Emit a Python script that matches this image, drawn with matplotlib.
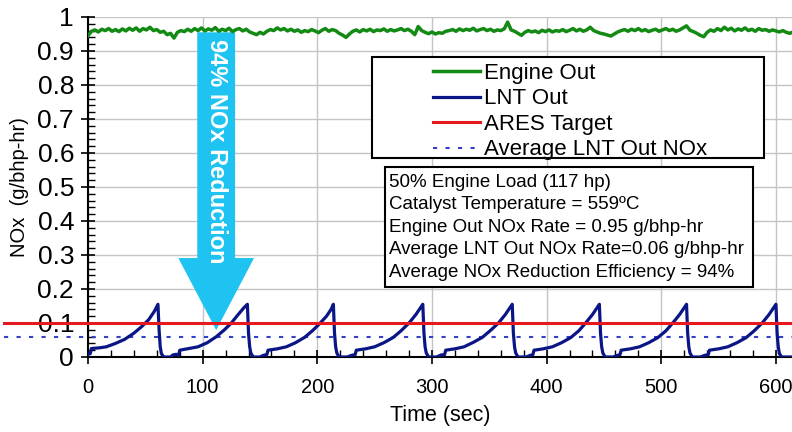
import numpy as np
import matplotlib.pyplot as plt
from matplotlib.patches import FancyArrow, Rectangle

plt.rcParams['font.family'] = ['Liberation Sans', 'DejaVu Sans']

# engine out NOx, sampled every 3 s
engine_t = np.arange(0, 616, 3)
engine_out = [
    0.945, 0.958, 0.962, 0.956, 0.964, 0.960, 0.966, 0.958, 0.963, 0.957,
    0.965, 0.959, 0.967, 0.961, 0.968, 0.958, 0.966, 0.962, 0.970, 0.960,
    0.963, 0.955, 0.958, 0.948, 0.952, 0.938, 0.955, 0.960, 0.957, 0.964,
    0.958, 0.966, 0.960, 0.968, 0.959, 0.965, 0.961, 0.969, 0.958, 0.964,
    0.960, 0.967, 0.957, 0.963, 0.966, 0.959, 0.964, 0.956, 0.952, 0.948,
    0.955, 0.950, 0.958, 0.963, 0.960, 0.968, 0.962, 0.966, 0.959, 0.964,
    0.958, 0.962, 0.955, 0.960, 0.957, 0.963, 0.959, 0.954, 0.961, 0.966,
    0.958, 0.963, 0.960, 0.952, 0.947, 0.940, 0.950, 0.958, 0.962, 0.956,
    0.963, 0.959, 0.964, 0.957, 0.962, 0.960, 0.965, 0.958, 0.963, 0.959,
    0.962, 0.966, 0.960, 0.964, 0.958, 0.948, 0.972, 0.960, 0.955, 0.951,
    0.956, 0.950, 0.954, 0.952, 0.958, 0.960, 0.963, 0.958, 0.965, 0.960,
    0.964, 0.961, 0.967, 0.959, 0.963, 0.966, 0.960, 0.964, 0.958, 0.962,
    0.960, 0.965, 0.985, 0.962, 0.958, 0.952, 0.946, 0.955, 0.960, 0.956,
    0.959, 0.954, 0.961, 0.957, 0.962, 0.956, 0.960, 0.958, 0.963, 0.957,
    0.961, 0.966, 0.959, 0.964, 0.958, 0.962, 0.970, 0.960, 0.956, 0.952,
    0.950, 0.947, 0.944, 0.950, 0.956, 0.960, 0.963, 0.958, 0.964, 0.960,
    0.966, 0.959, 0.963, 0.957, 0.961, 0.964, 0.958, 0.962, 0.966, 0.960,
    0.964, 0.958, 0.962, 0.968, 0.974, 0.961, 0.957, 0.952, 0.946, 0.942,
    0.955, 0.962, 0.958, 0.966, 0.960, 0.970, 0.962, 0.967, 0.959, 0.965,
    0.961, 0.968, 0.960, 0.964, 0.958, 0.966, 0.961, 0.963, 0.958, 0.962,
    0.959, 0.956, 0.960, 0.955, 0.952, 0.956,
]

# LNT out NOx, read at the corners of the trace
lnt_t = [
    0, 2, 3, 10, 16, 24, 32, 40, 47, 53, 58, 61,
    62, 63, 64, 66, 72, 74, 77, 79, 80, 88, 96, 104, 112, 119, 125, 131, 136, 139,
    140, 141, 142, 144, 150, 153, 156, 157, 165, 173, 181, 189, 196, 202, 208, 212, 214,
    215, 216, 217, 219, 226, 230, 233, 234, 242, 250, 258, 266, 273, 280, 286, 290, 292,
    293, 294, 295, 297, 304, 308, 311, 312, 320, 328, 336, 344, 351, 358, 364, 368, 370,
    371, 372, 373, 375, 382, 386, 388, 389, 397, 405, 413, 421, 428, 434, 440, 444, 446,
    447, 448, 449, 451, 458, 462, 464, 465, 473, 481, 489, 497, 504, 510, 516, 520, 522,
    523, 524, 525, 527, 534, 538, 541, 542, 550, 558, 566, 574, 581, 588, 594, 598, 600,
    601, 602, 603, 605, 614,
]
lnt_out = [
    0.008, 0.010, 0.025, 0.027, 0.030, 0.040, 0.052, 0.070, 0.090, 0.110, 0.135, 0.155,
    0.080, 0.030, 0.010, 0.000, 0.000, 0.006, 0.008, 0.005, 0.020, 0.025, 0.030, 0.042, 0.060, 0.080, 0.100, 0.125, 0.145, 0.155,
    0.070, 0.030, 0.012, 0.000, 0.000, 0.005, 0.007, 0.020, 0.024, 0.030, 0.042, 0.058, 0.078, 0.098, 0.120, 0.140, 0.155,
    0.070, 0.030, 0.012, 0.000, 0.000, 0.005, 0.007, 0.020, 0.024, 0.030, 0.042, 0.057, 0.077, 0.100, 0.125, 0.145, 0.155,
    0.070, 0.030, 0.012, 0.000, 0.000, 0.006, 0.007, 0.020, 0.024, 0.030, 0.043, 0.058, 0.078, 0.100, 0.125, 0.145, 0.155,
    0.070, 0.030, 0.012, 0.000, 0.000, 0.005, 0.007, 0.020, 0.024, 0.030, 0.042, 0.057, 0.077, 0.100, 0.125, 0.145, 0.155,
    0.070, 0.030, 0.012, 0.000, 0.000, 0.005, 0.007, 0.020, 0.024, 0.030, 0.042, 0.057, 0.077, 0.100, 0.125, 0.145, 0.155,
    0.070, 0.030, 0.012, 0.000, 0.000, 0.005, 0.007, 0.020, 0.024, 0.030, 0.042, 0.057, 0.077, 0.100, 0.125, 0.145, 0.155,
    0.070, 0.030, 0.010, 0.000, 0.000,
]

ares_target = 0.10
avg_lnt = 0.06

info_lines = [
    "50% Engine Load (117 hp)",
    "Catalyst Temperature = 559ºC",
    "Engine Out NOx Rate = 0.95 g/bhp-hr",
    "Average LNT Out NOx Rate=0.06 g/bhp-hr",
    "Average NOx Reduction Efficiency = 94%",
]

fig = plt.figure(figsize=(7.92, 4.32), dpi=100)
ax = fig.add_axes([88/792, 1-357/432, 704/792, 340/432])

ax.set_xlim(0, 614)
ax.set_ylim(0, 1)

# reduction arrow behind the traces
arrow = FancyArrow(111.8, 0.955, 0, 0.079-0.955, width=33, head_width=66,
                   head_length=0.212, length_includes_head=True,
                   color='#1fc3f1', lw=0, zorder=1.5)
ax.add_patch(arrow)
ax.text(111.8, 0.605, "94% NOx Reduction", rotation=-90, color='white',
        fontsize=17, fontweight='bold', ha='center', va='center', zorder=1.6)

l1, = ax.plot(engine_t, engine_out, color='#138a13', lw=2.5, label='Engine Out', zorder=3)
l2, = ax.plot(lnt_t, lnt_out, color='#0b1686', lw=2.3, label='LNT Out', zorder=3)
l3, = ax.plot([-73, 614], [ares_target, ares_target], color='#e5191e', lw=2.2,
              label='ARES Target', clip_on=False, zorder=3)
l4, = ax.plot([-73, 614], [avg_lnt, avg_lnt], color='#3340c8', lw=1.5,
              ls=(0, (2, 4)), label='Average LNT Out NOx', clip_on=False, zorder=2.5)

ax.set_xticks(range(0, 601, 100))
ax.set_xticks(range(0, 601, 20), minor=True)
ax.set_yticks(np.arange(0, 1.01, 0.1))
ax.set_yticks(np.arange(0, 1.001, 0.02), minor=True)
ax.set_yticklabels(['0', '0.1', '0.2', '0.3', '0.4', '0.5', '0.6', '0.7', '0.8', '0.9', '1'])
ax.tick_params(which='major', direction='inout', length=10, width=1.2)
ax.tick_params(axis='x', which='major', labelsize=14.5, pad=10)
ax.tick_params(axis='y', which='major', labelsize=19, pad=5)
ax.tick_params(which='minor', direction='in', length=5, width=1)
ax.grid(True, which='major', color='#c4c4c4', lw=1)
ax.set_axisbelow(True)
for s in ['top', 'right']:
    ax.spines[s].set_visible(False)
for s in ['left', 'bottom']:
    ax.spines[s].set_linewidth(1.5)

ax.set_xlabel("Time (sec)", fontsize=15.5, labelpad=6)
ax.set_ylabel("NOx  (g/bhp-hr)", fontsize=14.5, labelpad=6)

# legend box
ax.add_patch(Rectangle((372/792, 1-158/432), 392/792, 101/432, transform=fig.transFigure,
                       facecolor='white', edgecolor='black', lw=1.5, zorder=4, clip_on=False))
leg = ax.legend(handles=[l1, l2, l3, l4], loc='upper left',
                bbox_to_anchor=(433/792, 1-63/432), bbox_transform=fig.transFigure,
                frameon=False, fontsize=16, borderpad=0, borderaxespad=0,
                handlelength=2.1, handletextpad=0.2, labelspacing=0.2)
leg.set_zorder(5)

# info box
ax.add_patch(Rectangle((385/792, 1-287/432), 368/792, 120/432, transform=fig.transFigure,
                       facecolor='white', edgecolor='black', lw=1.5, zorder=4, clip_on=False))
fig.text(389/792, 1-174/432, "\n".join(info_lines), fontsize=13.5, ha='left', va='top',
         linespacing=1.42, zorder=6)

plt.savefig("out.png", dpi=100)
